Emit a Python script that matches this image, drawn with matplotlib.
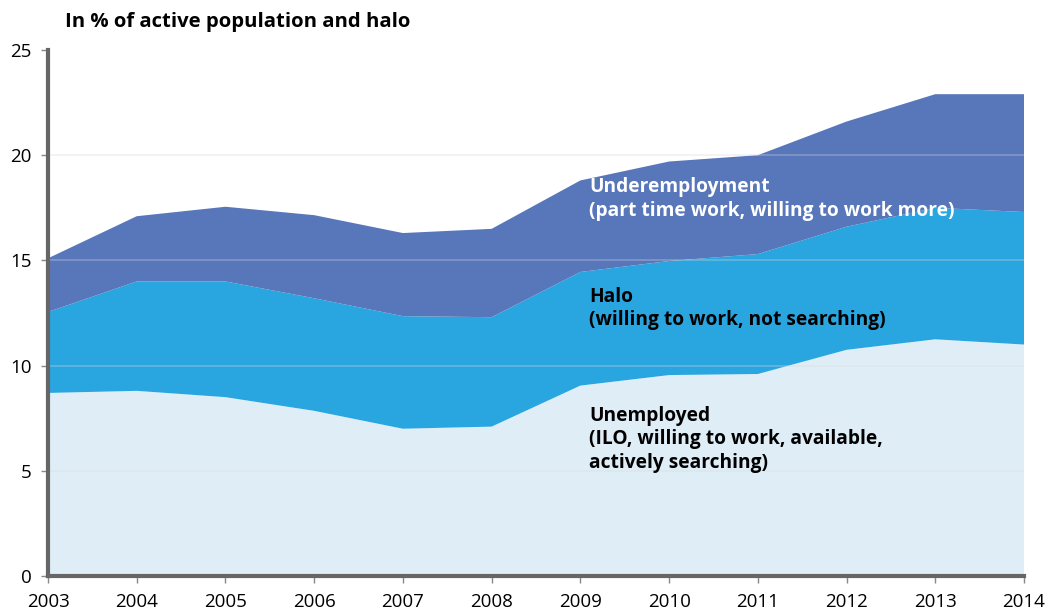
import matplotlib.pyplot as plt

# Data (cumulative tops converted to layers)
years = [2003, 2004, 2005, 2006, 2007, 2008, 2009, 2010, 2011, 2012, 2013, 2014]
unemployed = [8.7, 8.8, 8.5, 7.85, 7.0, 7.1, 9.05, 9.55, 9.6, 10.75, 11.25, 11.0]
halo_top = [12.55, 14.0, 14.0, 13.2, 12.35, 12.3, 14.45, 14.97, 15.3, 16.6, 17.5, 17.3]
total_top = [15.1, 17.1, 17.55, 17.15, 16.3, 16.5, 18.8, 19.7, 20.0, 21.6, 22.9, 22.9]

halo = [h - u for h, u in zip(halo_top, unemployed)]
underemp = [t - h for t, h in zip(total_top, halo_top)]

plt.rcParams['font.family'] = ['Open Sans', 'DejaVu Sans']

fig = plt.figure(figsize=(10.58, 6.12), dpi=100)
ax = fig.add_axes([48 / 1058, 36 / 612, 976 / 1058, 526 / 612])

ax.stackplot(years, unemployed, halo, underemp,
             colors=['#DFEDF7', '#29A5DF', '#5876BA'], linewidth=0, zorder=1)

# grid over the areas
for v in [5, 10, 15, 20]:
    ax.axhline(v, color=(0.85, 0.85, 0.85, 0.35), lw=1.2, zorder=2)

ax.set_xlim(2003, 2014)
ax.set_ylim(0, 25)
ax.set_xticks(years)
ax.set_yticks([0, 5, 10, 15, 20, 25])
ax.tick_params(axis='both', labelsize=13.5, color='#888888', length=5, width=1)
ax.tick_params(axis='y', pad=7)
ax.tick_params(axis='x', pad=7)

for s in ['top', 'right']:
    ax.spines[s].set_visible(False)
for s in ['left', 'bottom']:
    ax.spines[s].set_color('#666666')
    ax.spines[s].set_linewidth(3)
    ax.spines[s].set_zorder(5)

fig.text(65 / 1058, 1 - 22 / 612, 'In % of active population and halo',
         fontsize=14.6, fontweight='bold', va='center', ha='left')

ax.text(2009.1, 18.95, 'Underemployment\n(part time work, willing to work more)',
        color='white', fontsize=13.8, fontweight='bold', va='top', linespacing=1.25)
ax.text(2009.1, 13.75, 'Halo\n(willing to work, not searching)',
        color='black', fontsize=13.8, fontweight='bold', va='top', linespacing=1.25)
ax.text(2009.1, 8.1, 'Unemployed\n(ILO, willing to work, available,\nactively searching)',
        color='black', fontsize=13.8, fontweight='bold', va='top', linespacing=1.25)

plt.savefig('out.png', dpi=100)
